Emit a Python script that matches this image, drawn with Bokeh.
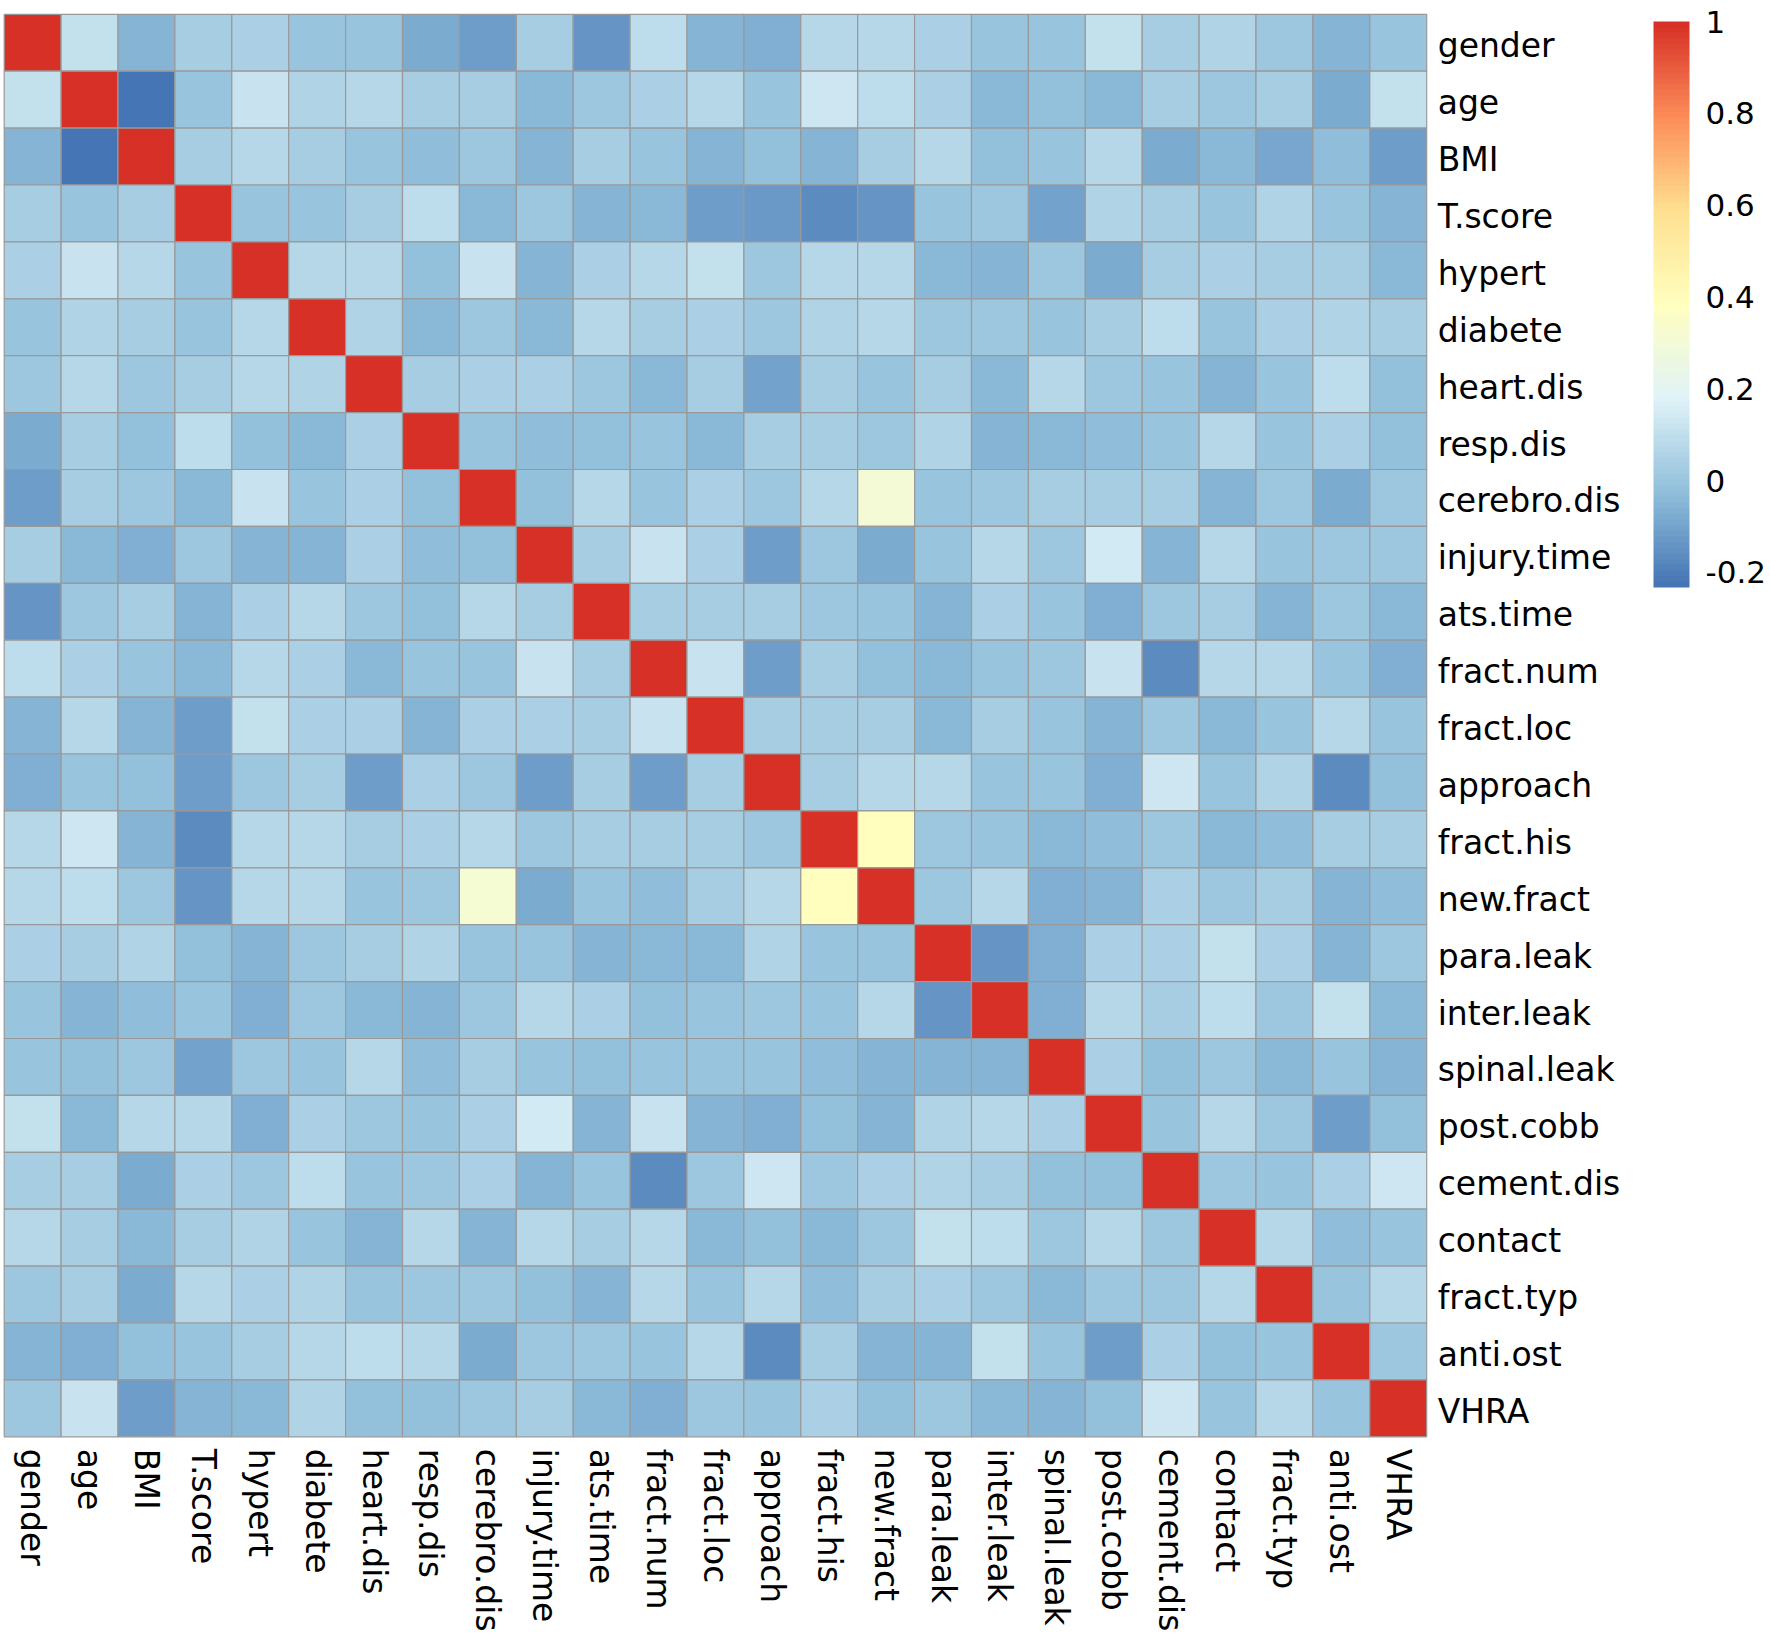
import math
from bokeh.plotting import figure
from bokeh.models import (ColumnDataSource, LinearColorMapper, ColorBar, FixedTicker,
                          CustomJSTickFormatter, Range1d)
from bokeh.core.properties import value
from bokeh.embed import file_html
from bokeh.resources import INLINE

labels = ["gender", "age", "BMI", "T.score", "hypert", "diabete", "heart.dis", "resp.dis",
          "cerebro.dis", "injury.time", "ats.time", "fract.num", "fract.loc", "approach",
          "fract.his", "new.fract", "para.leak", "inter.leak", "spinal.leak", "post.cobb",
          "cement.dis", "contact", "fract.typ", "anti.ost", "VHRA"]

gender = [1, 0.10, -0.06, 0.03, 0.045, 0.0, 0.0, -0.08, -0.11, 0.03, -0.14, 0.095, -0.06, -0.07, 0.065, 0.075, 0.045, -0.01, 0.0, 0.11, 0.03, 0.055, 0.01, -0.06, 0.0]
age = [0.10, 1, -0.233, 0.0, 0.12, 0.055, 0.065, 0.03, 0.03, -0.04, 0.01, 0.045, 0.065, 0.0, 0.13, 0.09, 0.045, -0.045, -0.02, -0.045, 0.03, 0.01, 0.03, -0.075, 0.11]
BMI = [-0.06, -0.233, 1, 0.03, 0.065, 0.03, 0.0, -0.025, 0.01, -0.06, 0.03, -0.01, -0.06, -0.02, -0.05, 0.03, 0.065, -0.02, 0.0, 0.065, -0.075, -0.045, -0.09, -0.025, -0.12]
T_score = [0.03, 0.0, 0.03, 1, 0.0, -0.01, 0.03, 0.095, -0.04, 0.01, -0.06, -0.045, -0.12, -0.125, -0.17, -0.14, -0.01, 0.01, -0.1, 0.055, 0.03, 0.0, 0.055, -0.01, -0.06]
hypert = [0.045, 0.12, 0.065, 0.0, 1, 0.075, 0.075, -0.02, 0.12, -0.05, 0.045, 0.065, 0.11, 0.01, 0.075, 0.075, -0.045, -0.06, 0.01, -0.075, 0.03, 0.045, 0.03, 0.03, -0.04]
diabete = [0.0, 0.055, 0.03, -0.01, 0.075, 1, 0.055, -0.04, 0.01, -0.045, 0.065, 0.03, 0.045, 0.01, 0.055, 0.065, 0.01, 0.01, -0.01, 0.03, 0.09, -0.01, 0.045, 0.055, 0.03]
heart_dis = [0.01, 0.065, 0.01, 0.03, 0.075, 0.055, 1, 0.03, 0.045, 0.045, 0.01, -0.045, 0.03, -0.1, 0.03, 0.0, 0.03, -0.04, 0.075, 0.01, -0.01, -0.06, 0.0, 0.09, -0.02]
resp_dis = [-0.08, 0.03, -0.02, 0.095, -0.02, -0.04, 0.045, 1, -0.01, -0.025, -0.02, -0.01, -0.045, 0.03, 0.03, 0.01, 0.055, -0.05, -0.04, -0.025, 0.0, 0.065, 0.0, 0.045, -0.02]
cerebro_dis = [-0.11, 0.03, 0.01, -0.04, 0.12, 0.0, 0.045, -0.02, 1, -0.02, 0.075, -0.01, 0.045, 0.01, 0.065, 0.30, 0.0, 0.01, 0.03, 0.03, 0.03, -0.06, 0.01, -0.075, 0.01]
injury_time = [0.03, -0.04, -0.07, 0.01, -0.05, -0.05, 0.045, -0.025, -0.02, 1, 0.03, 0.12, 0.045, -0.11, 0.01, -0.075, 0.0, 0.065, 0.01, 0.14, -0.05, 0.065, -0.01, 0.01, 0.01]
ats_time = [-0.14, 0.01, 0.03, -0.06, 0.045, 0.065, 0.01, -0.02, 0.075, 0.03, 1, 0.03, 0.03, 0.03, 0.01, -0.01, -0.05, 0.045, -0.01, -0.07, 0.01, 0.03, -0.05, 0.01, -0.04]
fract_num = [0.095, 0.045, -0.01, -0.045, 0.065, 0.045, -0.045, -0.01, 0.0, 0.12, 0.03, 1, 0.12, -0.11, 0.03, -0.02, -0.045, -0.01, 0.01, 0.12, -0.17, 0.065, 0.065, -0.01, -0.07]
fract_loc = [-0.05, 0.065, -0.05, -0.12, 0.11, 0.045, 0.045, -0.05, 0.045, 0.045, 0.03, 0.12, 1, 0.03, 0.03, 0.03, -0.04, 0.03, -0.01, -0.06, 0.01, -0.04, 0.0, 0.065, -0.01]
approach = [-0.07, 0.0, -0.02, -0.11, 0.01, 0.03, -0.11, 0.045, 0.01, -0.11, 0.03, -0.11, 0.03, 1, 0.03, 0.065, 0.065, -0.01, -0.01, -0.07, 0.13, -0.01, 0.055, -0.17, -0.02]
fract_his = [0.075, 0.13, -0.05, -0.16, 0.075, 0.065, 0.03, 0.045, 0.065, 0.01, 0.03, 0.03, 0.03, 0.01, 1, 0.39, 0.01, 0.0, -0.045, -0.025, 0.01, -0.045, -0.025, 0.03, 0.03]
new_fract = [0.075, 0.09, 0.01, -0.14, 0.075, 0.065, 0.0, 0.01, 0.31, -0.075, -0.01, -0.025, 0.03, 0.065, 0.39, 1, 0.01, 0.075, -0.07, -0.06, 0.045, 0.01, 0.03, -0.06, -0.025]
para_leak = [0.045, 0.03, 0.055, -0.02, -0.05, 0.01, 0.03, 0.055, 0.0, -0.01, -0.06, -0.045, -0.045, 0.055, 0.0, 0.0, 1, -0.14, -0.07, 0.045, 0.045, 0.11, 0.045, -0.06, 0.01]
inter_leak = [-0.01, -0.06, -0.025, 0.0, -0.07, 0.01, -0.04, -0.06, 0.01, 0.065, 0.045, -0.02, 0.0, 0.01, -0.01, 0.075, -0.14, 1, -0.07, 0.065, 0.03, 0.09, 0.01, 0.11, -0.04]
spinal_leak = [-0.01, -0.02, 0.01, -0.1, 0.01, 0.0, 0.075, -0.025, 0.03, -0.01, -0.02, 0.0, -0.01, -0.01, -0.025, -0.06, -0.06, -0.06, 1, 0.045, -0.02, 0.01, -0.04, 0.0, -0.06]
post_cobb = [0.11, -0.04, 0.075, 0.075, -0.07, 0.045, 0.01, 0.0, 0.045, 0.14, -0.06, 0.12, -0.05, -0.07, -0.02, -0.05, 0.055, 0.075, 0.045, 1, -0.01, 0.075, 0.01, -0.12, -0.02]
cement_dis = [0.03, 0.03, -0.075, 0.045, 0.01, 0.09, -0.01, 0.01, 0.045, -0.05, 0.0, -0.17, 0.01, 0.13, 0.01, 0.045, 0.055, 0.03, -0.02, -0.02, 1, 0.01, 0.0, 0.045, 0.13]
contact = [0.075, 0.03, -0.04, 0.03, 0.055, -0.01, -0.05, 0.065, -0.06, 0.075, 0.03, 0.075, -0.04, -0.02, -0.045, 0.01, 0.11, 0.09, 0.01, 0.075, 0.01, 1, 0.075, -0.025, 0.0]
fract_typ = [0.01, 0.03, -0.08, 0.065, 0.045, 0.055, 0.0, 0.01, 0.01, -0.02, -0.05, 0.065, -0.01, 0.065, -0.025, 0.03, 0.045, 0.01, -0.04, 0.01, 0.01, 0.075, 1, -0.01, 0.065]
anti_ost = [-0.05, -0.07, -0.02, -0.01, 0.03, 0.065, 0.09, 0.065, -0.075, 0.01, 0.01, -0.01, 0.065, -0.16, 0.03, -0.06, -0.05, 0.11, 0.0, -0.12, 0.045, -0.02, -0.01, 1, 0.01]
VHRA = [0.01, 0.12, -0.11, -0.06, -0.04, 0.055, -0.02, -0.02, 0.01, 0.03, -0.04, -0.07, 0.01, -0.01, 0.045, -0.02, 0.01, -0.04, -0.05, -0.02, 0.13, -0.01, 0.065, 0.0, 1]

rows = [gender, age, BMI, T_score, hypert, diabete, heart_dis, resp_dis, cerebro_dis,
        injury_time, ats_time, fract_num, fract_loc, approach, fract_his, new_fract,
        para_leak, inter_leak, spinal_leak, post_cobb, cement_dis, contact, fract_typ,
        anti_ost, VHRA]

legend_ticks = [-0.2, 0.0, 0.2, 0.4, 0.6, 0.8, 1.0]

# palette: colorRampPalette(rev(brewer.pal(7, "RdYlBu")))(100)
stops = ["#4575B4", "#91BFDB", "#E0F3F8", "#FFFFBF", "#FEE090", "#FC8D59", "#D73027"]
def hex2rgb(h):
    return [int(h[i:i + 2], 16) for i in (1, 3, 5)]
srgb = [hex2rgb(s) for s in stops]
palette = []
N = 100
for k in range(N):
    t = k / (N - 1) * (len(stops) - 1)
    i = min(int(t), len(stops) - 2)
    f = t - i
    c = [round(srgb[i][m] + (srgb[i + 1][m] - srgb[i][m]) * f) for m in range(3)]
    palette.append("#%02X%02X%02X" % tuple(c))

n = len(labels)
xs, ys, vals = [], [], []
for i, r in enumerate(rows):
    for j, v in enumerate(r):
        xs.append(j + 0.5)
        ys.append(i + 0.5)
        vals.append(v)
vmin = min(vals)
vmax = max(vals)
mapper = LinearColorMapper(palette=palette, low=vmin, high=vmax)

W, H = 1770, 1637
cell = 56.9
left_off = 3.7
top_off = 13.8
x_start = -left_off / cell
x_end = x_start + W / cell
y_top = -top_off / cell
y_bot = y_top + H / cell

p = figure(width=W, height=H, output_backend="svg", toolbar_location=None,
           x_range=Range1d(x_start, x_end), y_range=Range1d(y_bot, y_top),
           min_border=0, min_border_left=0, min_border_right=0,
           min_border_top=0, min_border_bottom=0)
p.axis.visible = False
p.grid.visible = False
p.outline_line_color = None
p.background_fill_color = "white"

src = ColumnDataSource(dict(x=xs, y=ys, v=vals))
p.rect(x="x", y="y", width=1, height=1, source=src,
       fill_color={"field": "v", "transform": mapper},
       line_color="#999999", line_width=1.2)

font = value("DejaVu Sans")
p.text(x=[n] * n, y=[i + 0.5 for i in range(n)], text=labels, x_offset=11, y_offset=3,
       text_align="left", text_baseline="middle", text_font=font,
       text_font_size="33px", text_color="black")
p.text(x=[j + 0.5 for j in range(n)], y=[n] * n, text=labels, y_offset=12,
       angle=-math.pi / 2, text_align="left", text_baseline="middle",
       text_font=font, text_font_size="33px", text_color="black")

cb = ColorBar(color_mapper=mapper, location=(1653, 1050), width=36, height=566,
              padding=0, margin=0, ticker=FixedTicker(ticks=legend_ticks),
              formatter=CustomJSTickFormatter(code="return Number(tick.toFixed(1)).toString();"),
              major_tick_line_color=None, minor_tick_line_color=None,
              bar_line_color=None, border_line_color=None, background_fill_alpha=0,
              label_standoff=16, major_label_text_font="DejaVu Sans",
              major_label_text_font_size="31px", major_label_text_color="black")
p.add_layout(cb, "center")

open("out.html", "w").write(file_html(p, INLINE))
